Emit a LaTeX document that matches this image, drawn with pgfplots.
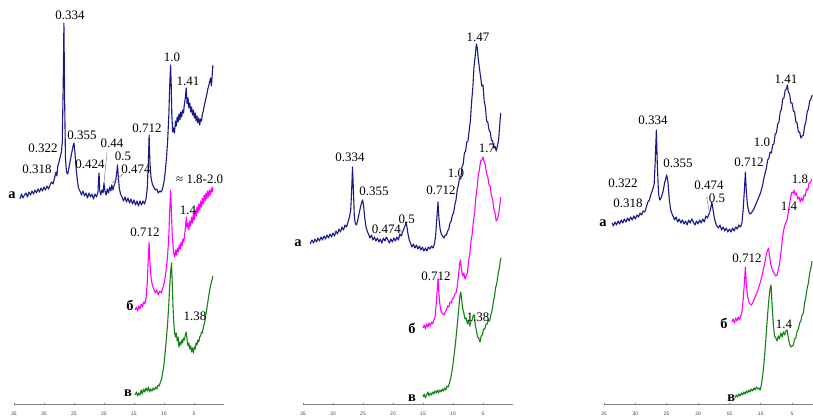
\documentclass[border=0pt]{standalone}
\usepackage{fontspec}
\setmainfont{Liberation Serif}
\setsansfont{Liberation Sans}
\usepackage{pgfplots}
\pgfplotsset{compat=1.18}
\definecolor{cnavy}{RGB}{25,25,135}
\definecolor{cmag}{RGB}{255,0,255}
\definecolor{cgreen}{RGB}{20,130,20}
\pgfplotsset{
 xrdaxis/.style={
  x=6bp, y=1bp, xmin=0, xmax=35, ymin=0, ymax=404, x dir=reverse,
  axis x line=bottom, axis y line=none,
  axis line style={-, gray, line width=0.7bp},
  xtick={5,10,...,35}, major tick length=2.5bp, tick align=center,
  tick style={gray, line width=0.6bp},
  xticklabel style={font=\sffamily\fontsize{5}{6}\selectfont, text=gray!50!black, yshift=-3.5bp},
  /pgf/number format/assume math mode=true,
  clip=false, anchor=south west,
 },
 every axis plot/.append style={line width=1.1bp, no markers, line join=round},
}
\tikzset{
 lbl/.style={font=\fontsize{13}{15}\selectfont, inner sep=0pt},
 cur/.style={font=\bfseries\fontsize{14.5}{16}\selectfont, inner sep=0pt},
}
\begin{document}
\begin{tikzpicture}
\useasboundingbox (0,0) rectangle (813bp,418bp);
% ---------------- Panel 1 ----------------
\begin{axis}[xrdaxis, at={(14bp,14bp)}]
\addplot[cnavy] coordinates {(34.0,205)(33.75,210)(33.5,206)(33.25,209)(33.0,211)(32.75,207)(32.5,212)(32.25,209)(32.0,213)(31.75,210)(31.5,214)(31.25,211)(31.0,215)(30.75,212)(30.5,216)(30.25,213)(30.0,217)(29.75,214)(29.5,218)(29.25,215)(29.0,219)(28.75,222)(28.5,220)(28.25,226)(28.0,232)(27.85,228)(27.7,238)(27.5,242)(27.3,247)(27.1,252)(26.95,262)(26.8,320)(26.68,381)(26.55,300)(26.42,245)(26.25,232)(26.05,230)(25.85,236)(25.6,244)(25.35,252)(25.15,258)(25.0,261)(24.85,252)(24.65,236)(24.45,224)(24.25,216)(24.0,213)(23.75,209)(23.5,213)(23.25,208)(23.0,211)(22.75,206)(22.5,211)(22.25,207)(22.0,210)(21.75,205)(21.5,210)(21.25,207)(21.0,212)(20.9,225)(20.82,231)(20.72,214)(20.55,209)(20.35,214)(20.15,211)(20.0,221)(19.85,213)(19.65,209)(19.45,215)(19.25,211)(19.05,217)(18.85,213)(18.7,219)(18.5,214)(18.3,219)(18.1,222)(17.9,230)(17.75,239)(17.6,226)(17.45,216)(17.25,210)(17.0,207)(16.75,203)(16.5,207)(16.25,202)(16.0,206)(15.75,201)(15.5,205)(15.25,200)(15.0,204)(14.75,199)(14.5,203)(14.25,198)(14.0,203)(13.75,199)(13.5,203)(13.25,200)(13.0,205)(12.8,215)(12.62,240)(12.48,269)(12.35,242)(12.15,226)(11.95,220)(11.7,217)(11.45,214)(11.2,215)(10.95,211)(10.7,213)(10.45,212)(10.2,216)(10.0,222)(9.8,232)(9.6,245)(9.4,262)(9.2,288)(9.05,318)(8.9,339)(8.8,320)(8.7,290)(8.55,272)(8.4,276)(8.25,271)(8.1,283)(7.95,278)(7.8,287)(7.65,282)(7.5,290)(7.35,284)(7.2,292)(7.05,287)(6.9,294)(6.75,291)(6.6,300)(6.45,306)(6.3,316)(6.15,300)(6.0,306)(5.85,296)(5.7,301)(5.55,292)(5.4,297)(5.25,289)(5.1,294)(4.95,286)(4.8,291)(4.65,283)(4.5,288)(4.35,281)(4.2,286)(4.05,279)(3.9,285)(3.75,283)(3.6,290)(3.45,293)(3.3,298)(3.15,302)(3.0,306)(2.85,310)(2.7,315)(2.55,318)(2.4,322)(2.25,326)(2.1,318)(1.95,330)(1.85,339)};
\addplot[cmag] coordinates {(14.8,94)(14.6,97)(14.4,93)(14.2,98)(14.0,95)(13.8,100)(13.6,97)(13.4,102)(13.2,100)(13.0,106)(12.8,120)(12.62,145)(12.48,162)(12.35,142)(12.15,126)(11.95,119)(11.7,115)(11.45,111)(11.2,114)(10.95,109)(10.7,113)(10.45,111)(10.2,116)(10.0,120)(9.8,127)(9.6,136)(9.4,148)(9.2,168)(9.05,192)(8.9,214)(8.78,195)(8.65,172)(8.5,158)(8.35,150)(8.2,147)(8.05,154)(7.9,149)(7.75,156)(7.6,152)(7.45,159)(7.3,155)(7.15,162)(7.0,158)(6.85,165)(6.7,162)(6.55,170)(6.4,178)(6.28,187)(6.15,176)(6.0,181)(5.85,174)(5.7,183)(5.55,178)(5.4,187)(5.25,181)(5.1,191)(4.95,184)(4.8,194)(4.65,188)(4.5,197)(4.35,191)(4.2,200)(4.05,194)(3.9,203)(3.75,197)(3.6,206)(3.45,200)(3.3,209)(3.15,203)(3.0,211)(2.85,205)(2.7,213)(2.55,207)(2.4,214)(2.25,209)(2.1,216)(1.95,212)(1.85,217)};
\addplot[cgreen] coordinates {(14.8,9)(14.6,12)(14.4,8)(14.2,11)(14.0,9)(13.8,14)(13.6,10)(13.4,15)(13.2,12)(13.0,16)(12.8,13)(12.6,17)(12.4,12)(12.2,15)(12.0,13)(11.8,16)(11.6,14)(11.4,17)(11.2,15)(11.0,19)(10.8,18)(10.6,22)(10.4,25)(10.2,32)(10.0,40)(9.8,52)(9.6,65)(9.4,80)(9.2,100)(9.05,118)(8.9,132)(8.75,141)(8.62,120)(8.5,98)(8.38,82)(8.25,72)(8.1,67)(7.95,71)(7.8,63)(7.65,67)(7.5,57)(7.35,62)(7.2,59)(7.05,64)(6.9,61)(6.75,66)(6.6,64)(6.45,69)(6.3,72)(6.15,64)(6.0,58)(5.85,61)(5.7,55)(5.55,58)(5.4,52)(5.25,56)(5.1,51)(4.95,57)(4.8,55)(4.65,61)(4.5,59)(4.35,64)(4.2,62)(4.05,67)(3.9,68)(3.75,72)(3.6,71)(3.45,76)(3.3,80)(3.15,84)(3.0,90)(2.85,96)(2.7,102)(2.55,108)(2.4,113)(2.25,118)(2.1,122)(1.95,125)(1.85,128)};
\node[lbl] at (axis cs:25.67,389) {0.334};
\node[lbl] at (axis cs:30.17,256) {0.322};
\node[lbl] at (axis cs:31.17,235) {0.318};
\node[lbl] at (axis cs:23.67,269) {0.355};
\node[lbl] at (axis cs:18.67,261) {0.44};
\node[lbl] at (axis cs:22.33,240) {0.424};
\node[lbl] at (axis cs:16.83,248) {0.5};
\node[lbl] at (axis cs:14.67,235) {0.474};
\node[lbl] at (axis cs:12.83,276) {0.712};
\node[lbl] at (axis cs:8.67,347) {1.0};
\node[lbl] at (axis cs:6.0,323) {1.41};
\node[lbl, anchor=west] at (axis cs:8.0,225) {≈ 1.8-2.0};
\node[lbl] at (axis cs:6.0,194) {1.4};
\node[lbl] at (axis cs:13.17,172) {0.712};
\node[lbl] at (axis cs:4.83,88) {1.38};
\node[cur] at (axis cs:35.33,209) {а};
\node[cur] at (axis cs:15.67,99) {б};
\node[cur] at (axis cs:16.0,11) {в};
\draw[gray, line width=0.5bp] (axis cs:19.5,252) -- (axis cs:20.0,221);
\draw[gray, line width=0.5bp] (axis cs:16.83,230) -- (axis cs:18.67,221);
\end{axis}
% ---------------- Panel 2 ----------------
\begin{axis}[xrdaxis, at={(303bp,14bp)}]
\addplot[cnavy] coordinates {(33.8,160)(33.5,164)(33.25,161)(33.0,165)(32.75,162)(32.5,166)(32.25,163)(32.0,167)(31.75,164)(31.5,168)(31.25,165)(31.0,169)(30.75,166)(30.5,170)(30.25,167)(30.0,171)(29.75,168)(29.5,173)(29.25,170)(29.0,175)(28.75,172)(28.5,177)(28.25,174)(28.0,179)(27.75,177)(27.5,182)(27.25,187)(27.05,194)(26.9,212)(26.75,237)(26.6,214)(26.45,188)(26.3,181)(26.1,179)(25.9,183)(25.7,189)(25.45,196)(25.2,202)(25.05,204)(24.9,198)(24.7,186)(24.5,177)(24.3,173)(24.1,170)(23.85,166)(23.6,169)(23.35,164)(23.1,167)(22.85,163)(22.6,166)(22.35,162)(22.1,165)(21.85,161)(21.6,166)(21.35,163)(21.1,167)(20.85,164)(20.6,161)(20.35,165)(20.1,162)(19.85,166)(19.6,163)(19.35,167)(19.1,164)(18.85,170)(18.6,168)(18.4,172)(18.2,175)(18.0,178)(17.85,182)(17.7,178)(17.5,170)(17.3,164)(17.1,161)(16.85,157)(16.6,160)(16.35,156)(16.1,159)(15.85,155)(15.6,158)(15.35,154)(15.1,157)(14.85,153)(14.6,156)(14.35,153)(14.1,157)(13.85,155)(13.6,158)(13.35,156)(13.1,160)(12.9,168)(12.7,185)(12.5,202)(12.35,186)(12.15,175)(11.95,170)(11.75,168)(11.5,166)(11.3,169)(11.1,169)(10.9,173)(10.7,175)(10.5,181)(10.3,183)(10.1,189)(9.9,191)(9.7,199)(9.5,204)(9.3,214)(9.1,219)(8.9,226)(8.7,225)(8.5,237)(8.3,240)(8.1,251)(7.9,253)(7.7,262)(7.5,263)(7.3,274)(7.1,283)(6.9,302)(6.7,316)(6.5,337)(6.3,348)(6.1,360)(5.95,356)(5.8,346)(5.6,336)(5.4,327)(5.2,318)(5.0,319)(4.8,303)(4.6,297)(4.4,283)(4.2,282)(4.0,274)(3.8,272)(3.6,264)(3.4,263)(3.2,256)(3.0,258)(2.8,253)(2.6,258)(2.4,264)(2.2,280)(2.05,291)};
\addplot[cmag] coordinates {(15.0,76)(14.8,79)(14.6,75)(14.4,80)(14.2,77)(14.0,81)(13.8,78)(13.6,82)(13.4,80)(13.2,84)(13.0,87)(12.8,100)(12.62,115)(12.48,126)(12.35,110)(12.15,98)(11.95,92)(11.7,90)(11.5,89)(11.3,92)(11.1,94)(10.9,98)(10.7,97)(10.5,102)(10.3,101)(10.1,105)(9.9,106)(9.7,110)(9.5,111)(9.3,117)(9.1,128)(8.9,140)(8.75,144)(8.6,135)(8.4,128)(8.2,131)(8.0,125)(7.8,128)(7.6,131)(7.4,143)(7.2,150)(7.0,163)(6.8,170)(6.6,183)(6.4,191)(6.2,206)(6.0,215)(5.8,229)(5.6,234)(5.4,243)(5.2,244)(5.0,247)(4.8,242)(4.6,239)(4.4,230)(4.2,227)(4.0,219)(3.8,218)(3.6,208)(3.4,205)(3.2,195)(3.0,191)(2.8,183)(2.6,185)(2.4,189)(2.2,199)(2.05,207)};
\addplot[cgreen] coordinates {(15.0,7)(14.8,10)(14.6,6)(14.4,9)(14.2,12)(14.0,8)(13.8,11)(13.6,9)(13.4,12)(13.2,10)(13.0,13)(12.8,11)(12.6,14)(12.4,11)(12.2,14)(12.0,12)(11.8,15)(11.6,13)(11.4,16)(11.2,14)(11.0,18)(10.8,17)(10.6,21)(10.4,25)(10.2,32)(10.0,40)(9.8,50)(9.6,60)(9.4,72)(9.2,85)(9.0,98)(8.85,108)(8.7,112)(8.55,104)(8.4,96)(8.2,91)(8.0,85)(7.8,86)(7.6,80)(7.4,84)(7.2,78)(7.0,83)(6.8,84)(6.6,89)(6.45,89)(6.3,80)(6.1,73)(5.9,67)(5.7,66)(5.5,62)(5.3,68)(5.1,69)(4.9,75)(4.7,75)(4.5,80)(4.3,80)(4.1,84)(3.9,83)(3.7,89)(3.5,93)(3.3,101)(3.1,107)(2.9,116)(2.7,121)(2.5,129)(2.3,135)(2.1,144)(2.0,146)};
\node[lbl] at (axis cs:27.17,247) {0.334};
\node[lbl] at (axis cs:23.17,213) {0.355};
\node[lbl] at (axis cs:21.1,175) {0.474};
\node[lbl] at (axis cs:17.7,185) {0.5};
\node[lbl] at (axis cs:12.0,214) {0.712};
\node[lbl] at (axis cs:9.5,231) {1.0};
\node[lbl] at (axis cs:5.83,367) {1.47};
\node[lbl] at (axis cs:4.33,256) {1.7};
\node[lbl] at (axis cs:12.83,128) {0.712};
\node[lbl] at (axis cs:5.83,87) {1.38};
\node[cur] at (axis cs:35.83,161) {а};
\node[cur] at (axis cs:16.83,76) {б};
\node[cur] at (axis cs:16.83,6) {в};
\draw[gray, line width=0.5bp] (axis cs:19.0,176) -- (axis cs:18.3,169);
\end{axis}
% ---------------- Panel 3 ----------------
\begin{axis}[xrdaxis, x=6.27bp, at={(604bp,14bp)}]
\addplot[cnavy] coordinates {(33.7,181)(33.5,178)(33.25,182)(33.0,179)(32.75,183)(32.5,180)(32.25,184)(32.0,181)(31.75,185)(31.5,182)(31.25,186)(31.0,183)(30.75,187)(30.5,184)(30.25,188)(30.0,185)(29.75,189)(29.5,187)(29.25,191)(29.0,189)(28.75,193)(28.5,192)(28.25,197)(28.0,202)(27.75,204)(27.5,210)(27.25,214)(27.0,220)(26.85,240)(26.65,274)(26.5,240)(26.3,210)(26.1,204)(25.9,206)(25.6,212)(25.3,222)(25.0,229)(24.8,222)(24.6,205)(24.4,195)(24.2,191)(24.0,188)(23.75,184)(23.5,187)(23.25,182)(23.0,185)(22.75,181)(22.5,184)(22.25,180)(22.0,183)(21.75,179)(21.5,184)(21.25,181)(21.0,185)(20.75,182)(20.5,179)(20.25,183)(20.0,180)(19.75,184)(19.5,181)(19.25,185)(19.0,182)(18.75,188)(18.5,186)(18.25,190)(18.0,195)(17.8,202)(17.6,194)(17.4,186)(17.2,181)(17.0,178)(16.75,176)(16.5,179)(16.25,174)(16.0,177)(15.75,173)(15.5,176)(15.25,172)(15.0,175)(14.75,172)(14.5,176)(14.25,173)(14.0,177)(13.75,175)(13.5,179)(13.25,177)(13.0,181)(12.8,195)(12.6,215)(12.45,232)(12.3,212)(12.1,198)(11.9,192)(11.7,190)(11.5,191)(11.3,193)(11.1,195)(10.9,198)(10.7,201)(10.5,204)(10.3,207)(10.1,210)(9.9,214)(9.7,219)(9.5,226)(9.3,231)(9.1,236)(8.9,244)(8.7,246)(8.5,252)(8.3,251)(8.1,259)(7.9,260)(7.7,270)(7.5,271)(7.3,280)(7.1,282)(6.9,292)(6.7,295)(6.5,305)(6.3,306)(6.1,314)(5.9,315)(5.75,319)(5.6,312)(5.4,310)(5.2,301)(5.0,301)(4.8,293)(4.6,292)(4.4,282)(4.2,281)(4.0,272)(3.8,272)(3.6,266)(3.4,268)(3.2,269)(3.0,278)(2.8,282)(2.6,292)(2.4,295)(2.2,303)(2.0,305)(1.8,309)};
\addplot[cmag] coordinates {(14.6,82)(14.4,85)(14.2,81)(14.0,86)(13.8,83)(13.6,87)(13.4,84)(13.2,88)(13.0,92)(12.8,105)(12.6,122)(12.45,137)(12.3,120)(12.1,108)(11.9,102)(11.7,100)(11.5,99)(11.3,101)(11.1,104)(10.9,107)(10.7,110)(10.5,113)(10.3,117)(10.1,121)(9.9,126)(9.7,131)(9.5,137)(9.3,143)(9.1,150)(8.9,154)(8.75,156)(8.6,148)(8.4,140)(8.2,135)(8.0,132)(7.8,130)(7.6,128)(7.4,129)(7.2,134)(7.0,140)(6.8,150)(6.6,162)(6.4,172)(6.2,178)(6.0,181)(5.8,184)(5.6,192)(5.4,200)(5.2,208)(5.0,212)(4.8,211)(4.65,214)(4.5,209)(4.3,211)(4.1,205)(3.9,207)(3.7,202)(3.5,206)(3.3,203)(3.1,209)(2.9,208)(2.7,215)(2.5,214)(2.3,221)(2.1,221)(1.9,225)};
\addplot[cgreen] coordinates {(14.1,6)(13.9,9)(13.7,7)(13.5,10)(13.3,8)(13.1,11)(12.9,9)(12.7,12)(12.5,10)(12.3,13)(12.1,11)(11.9,14)(11.7,12)(11.5,15)(11.3,13)(11.1,16)(10.9,14)(10.7,17)(10.5,15)(10.3,16)(10.1,14)(9.9,19)(9.7,28)(9.5,40)(9.3,55)(9.1,72)(8.9,90)(8.7,105)(8.5,116)(8.35,119)(8.2,100)(8.0,80)(7.8,68)(7.6,66)(7.4,63)(7.2,68)(7.0,65)(6.8,71)(6.6,67)(6.4,72)(6.2,69)(6.0,73)(5.8,74)(5.6,66)(5.4,60)(5.2,57)(5.0,58)(4.8,59)(4.6,65)(4.4,66)(4.2,73)(4.0,75)(3.8,81)(3.6,83)(3.4,89)(3.2,91)(3.0,101)(2.8,107)(2.6,116)(2.4,121)(2.2,131)(2.0,136)(1.8,143)};
\node[lbl] at (axis cs:27.19,284) {0.334};
\node[lbl] at (axis cs:31.97,221) {0.322};
\node[lbl] at (axis cs:31.17,201) {0.318};
\node[lbl] at (axis cs:23.2,241) {0.355};
\node[lbl] at (axis cs:18.25,219) {0.474};
\node[lbl] at (axis cs:16.98,206) {0.5};
\node[lbl] at (axis cs:11.87,242) {0.712};
\node[lbl] at (axis cs:9.8,262) {1.0};
\node[lbl] at (axis cs:5.97,325) {1.41};
\node[lbl] at (axis cs:3.74,225) {1.8};
\node[lbl] at (axis cs:5.5,198) {1.4};
\node[lbl] at (axis cs:12.19,146) {0.712};
\node[lbl] at (axis cs:6.29,80) {1.4};
\node[cur] at (axis cs:35.16,181) {а};
\node[cur] at (axis cs:15.86,81) {б};
\node[cur] at (axis cs:14.7,6) {в};
\draw[gray, line width=0.5bp] (axis cs:18.62,207) -- (axis cs:18.2,191);
\end{axis}
\end{tikzpicture}
\end{document}
